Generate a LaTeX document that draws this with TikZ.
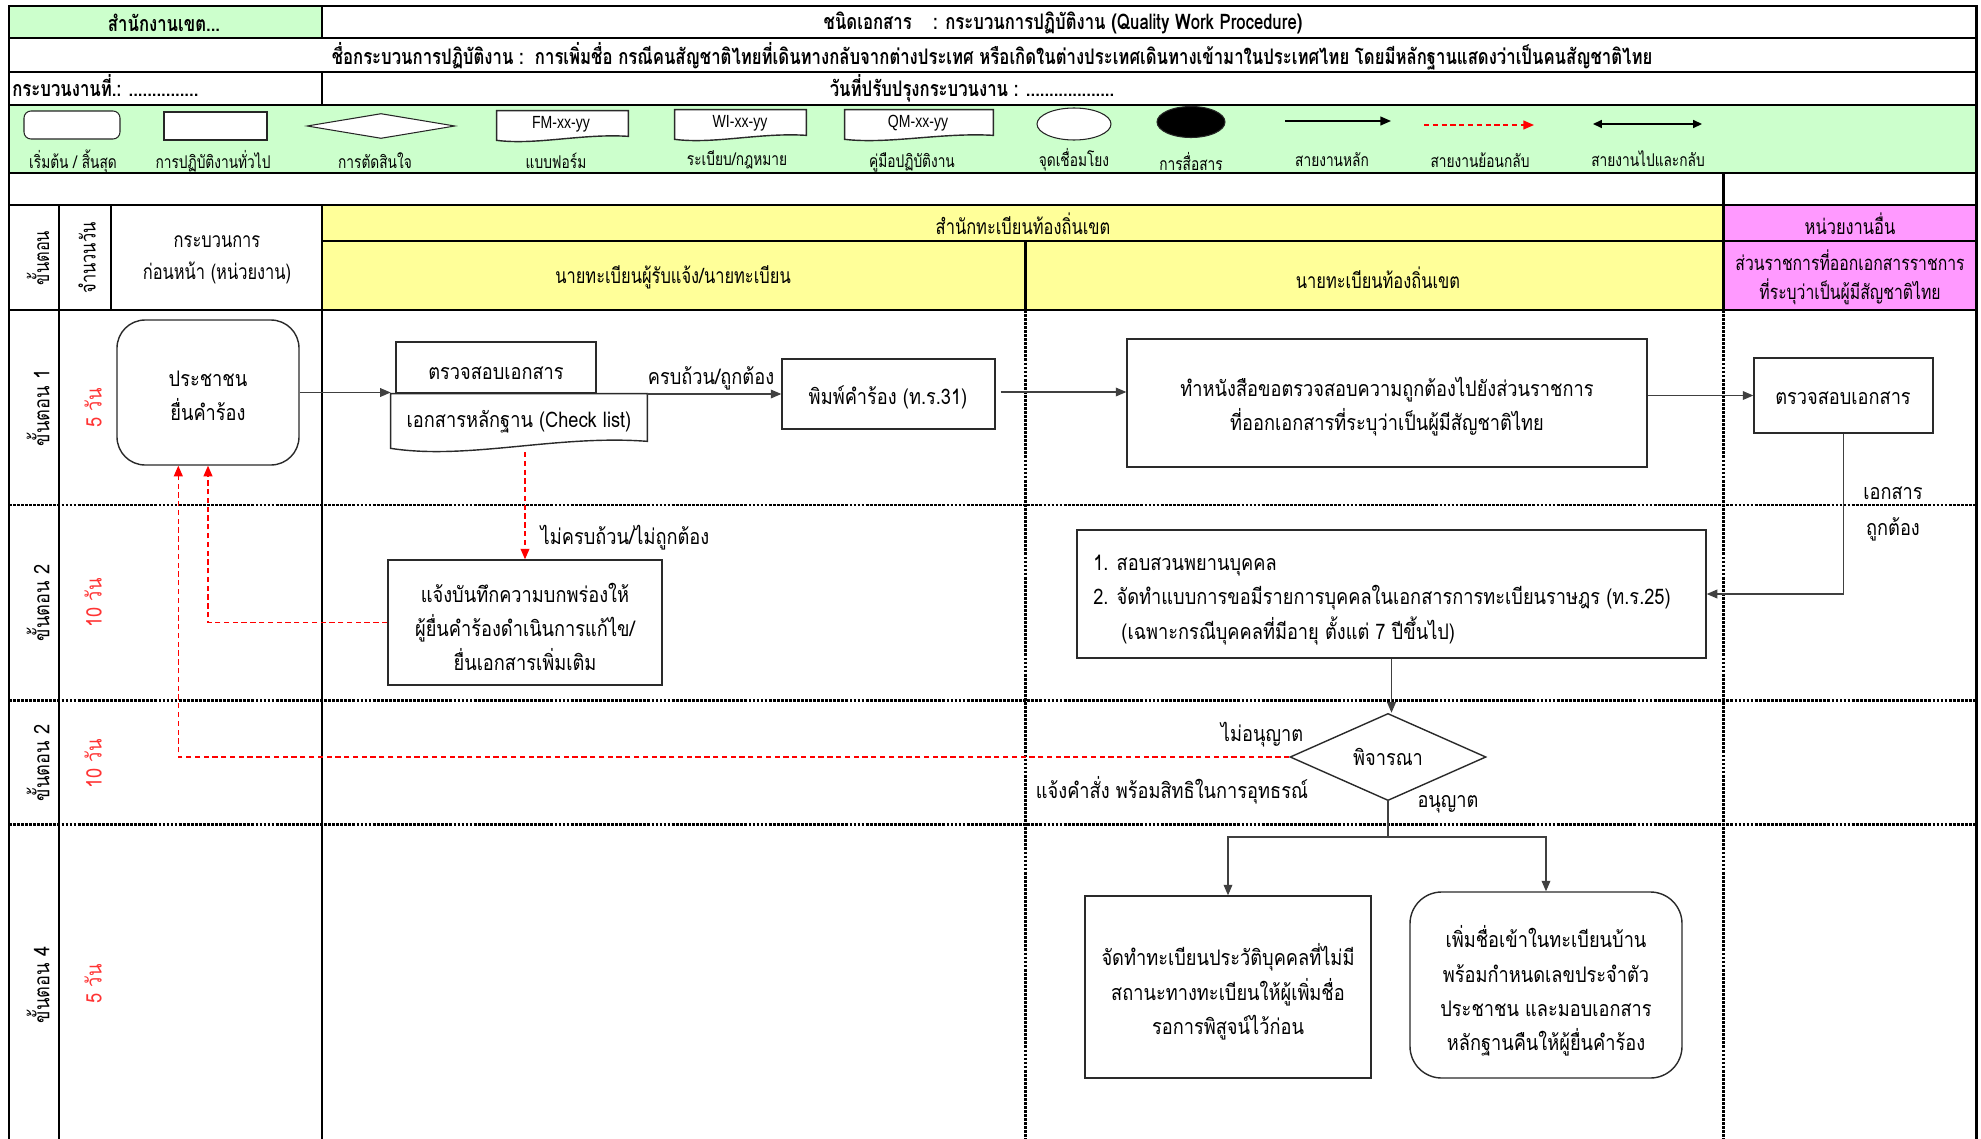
\documentclass[tikz,border=0pt]{standalone}
\usepackage{fontspec}
\setmainfont{Loma}[Script=Thai]
\newfontfamily\bodyf{Loma}[Script=Thai,FakeStretch=0.85]
\newfontfamily\condf{Loma}[Script=Thai,FakeStretch=0.78]
\newfontfamily\latf{Liberation Sans}[FakeStretch=0.8]
\usetikzlibrary{arrows.meta,shapes.geometric,fit,calc}
\definecolor{lgreen}{HTML}{CCFFCC}
\definecolor{lyellow}{HTML}{FFFF99}
\definecolor{lpink}{HTML}{FF99FF}
\definecolor{fbred}{HTML}{FF0000}
\definecolor{dayred}{HTML}{FF3333}
\definecolor{boxline}{HTML}{2A2A2A}
\newcommand\fbody{\bodyf\fontsize{12.2}{19.5}\selectfont}
\newcommand\fhead{\condf\fontsize{12}{18}\selectfont}
\newcommand\fhbold{\condf\bfseries\fontsize{12.2}{14}\selectfont}
\newcommand\flegend{\condf\fontsize{10}{12}\selectfont}
% document shape: #1 node, #2 rise at right end, #3 up-bulge, #4 down-dip
\newcommand\docpath[4]{\draw[docline] (#1.south west) -- (#1.north west) -- (#1.north east) -- ($(#1.south east)+(0,-#2)$) .. controls ($(#1.south east)!0.35!(#1.south west)+(0,-#3)$) and ($(#1.south east)!0.7!(#1.south west)+(0,#4)$) .. (#1.south west) -- cycle;}
\tikzset{
  gridline/.style={line width=1.7pt, line cap=rect},
  dotline/.style={line width=1.7pt, dash pattern=on 1.6pt off 0.7pt},
  pbox/.style={draw=boxline, line width=0.8pt, fill=white, inner sep=0pt},
  rbox/.style={pbox, rounded corners=13pt},
  docline/.style={draw=boxline, line width=0.8pt, fill=white},
  btxt/.style={font=\fbody, inner sep=0pt, align=center},
  arr/.style={draw=black!75, line width=0.6pt, -{Triangle[length=6pt,width=5pt]}},
  biarr/.style={draw=black, line width=0.8pt, {Triangle[length=5pt,width=4.5pt]}-{Triangle[length=5pt,width=4.5pt]}},
  fb/.style={draw=fbred, line width=0.8pt, dash pattern=on 3pt off 2pt, -{Triangle[length=6pt,width=5pt]}},
  lbl/.style={font=\fbody, inner sep=0pt},
  hdr/.style={font=\fhead, inner sep=0pt, align=center},
  hb/.style={font=\fhbold, inner sep=0pt},
  leg/.style={font=\flegend, inner sep=0pt},
  lgshape/.style={draw=black!85, line width=0.6pt, fill=white, inner sep=0pt},
  doct/.style={font=\latf\fontsize{10}{11}\selectfont, inner sep=0pt},
  day/.style={font=\fbody, text=dayred, inner sep=0pt, rotate=90},
  stp/.style={font=\fbody, inner sep=0pt, rotate=90},
}
\begin{document}
\begin{tikzpicture}[x=0.02cm,y=-0.02cm]
\useasboundingbox (0,0) rectangle (1981,1139);
% ---------- fills ----------
\fill[lgreen] (9,6) rectangle (322,38);
\fill[lgreen] (9,105) rectangle (1976,173);
\fill[lyellow] (322,205) rectangle (1723,310);
\fill[lpink] (1723,205) rectangle (1976,310);
% ---------- grid ----------
\foreach \yy in {6,38,72,105,173,205,310} \draw[gridline] (9,\yy) -- (1976,\yy);
\draw[gridline] (322,241) -- (1976,241);
\draw[gridline] (9,6) -- (9,1139);
\draw[gridline] (1976,6) -- (1976,1139);
\draw[gridline] (322,6) -- (322,38);
\draw[gridline] (322,72) -- (322,105);
\draw[gridline] (322,205) -- (322,1139);
\draw[gridline] (59,205) -- (59,1139);
\draw[gridline] (111,205) -- (111,310);
\draw[gridline] (1723,173) -- (1723,310);
\draw[gridline] (1025,241) -- (1025,310);
\draw[dotline] (1723,310) -- (1723,1139);
\draw[dotline] (1025,310) -- (1025,1139);
\foreach \yy in {505,700,824} \draw[dotline] (9,\yy) -- (1976,\yy);
% ---------- title rows ----------
\node[hb] (office) at (164,23) {สำนักงานเขต...};
\node[hb] (doctype) at (1063,23) {ชนิดเอกสาร\quad : กระบวนการปฏิบัติงาน (Quality Work Procedure)};
\node[hb] (procname) at (992,56) {ชื่อกระบวนการปฏิบัติงาน :\ \ การเพิ่มชื่อ กรณีคนสัญชาติไทยที่เดินทางกลับจากต่างประเทศ หรือเกิดในต่างประเทศเดินทางเข้ามาในประเทศไทย โดยมีหลักฐานแสดงว่าเป็นคนสัญชาติไทย};
\node[hb, anchor=west] (procno) at (12,86) {กระบวนงานที่.: ...............};
\node[hb] (update) at (972,88) {วันที่ปรับปรุงกระบวนงาน : ...................};
% ---------- legend ----------
\node[lgshape, rounded corners=4pt, fit={(24,111)(120,139)}] (lg1) {};
\node[lgshape, fit={(164,112)(267,140)}] (lg2) {};
\node[lgshape, diamond, minimum width=2.96cm, minimum height=0.5cm] (lg3) at (381,126) {};
\node[inner sep=0pt, fit={(497,111)(628,140)}] (lg4) {};
\docpath{lg4}{4}{7}{5}
\node[inner sep=0pt, fit={(675,110)(806,139)}] (lg5) {};
\docpath{lg5}{4}{7}{5}
\node[inner sep=0pt, fit={(845,110)(993,139)}] (lg6) {};
\docpath{lg6}{4}{7}{5}
\node[doct] (lg4t) at (561,124) {FM-xx-yy};
\node[doct] (lg5t) at (740,123) {WI-xx-yy};
\node[doct] (lg6t) at (918,123) {QM-xx-yy};
\node[lgshape, ellipse, minimum width=1.48cm, minimum height=0.64cm] (lg7) at (1074,124) {};
\node[lgshape, ellipse, fill=black, minimum width=1.36cm, minimum height=0.62cm] (lg8) at (1191,122) {};
\coordinate (la1) at (1285,121); \coordinate (la2) at (1391,121);
\draw[arr, draw=black, line width=0.8pt] (la1) -- (la2);
\coordinate (lb1) at (1424,125); \coordinate (lb2) at (1534,125);
\draw[fb] (lb1) -- (lb2);
\coordinate (lc1) at (1593,124); \coordinate (lc2) at (1702,124);
\draw[biarr] (lc1) -- (lc2);
\node[leg] (lt1) at (73,161) {เริ่มต้น / สิ้นสุด};
\node[leg] (lt2) at (213,161) {การปฏิบัติงานทั่วไป};
\node[leg] (lt3) at (375,161) {การตัดสินใจ};
\node[leg] (lt4) at (556,161) {แบบฟอร์ม};
\node[leg] (lt5) at (737,160) {ระเบียบ/กฎหมาย};
\node[leg] (lt6) at (912,162) {คู่มือปฏิบัติงาน};
\node[leg] (lt7) at (1074,160) {จุดเชื่อมโยง};
\node[leg] (lt8) at (1191,162) {การสื่อสาร};
\node[leg] (lt9) at (1332,160) {สายงานหลัก};
\node[leg] (lt10) at (1480,160) {สายงานย้อนกลับ};
\node[leg] (lt11) at (1648,159) {สายงานไปและกลับ};
% ---------- column headers ----------
\node[hdr, rotate=90] (hstep) at (38,258) {ขั้นตอน};
\node[hdr, rotate=90] (hdays) at (87,258) {จำนวนวัน};
\node[hdr] (hprev) at (217,260) {กระบวนการ\\ก่อนหน้า (หน่วยงาน)};
\node[hdr] (hreg) at (1023,224) {สำนักทะเบียนท้องถิ่นเขต};
\node[hdr] (hother) at (1850,224) {หน่วยงานอื่น};
\node[hdr] (hrecv) at (673,277) {นายทะเบียนผู้รับแจ้ง/นายทะเบียน};
\node[hdr] (hlocal) at (1378,278) {นายทะเบียนท้องถิ่นเขต};
\node[hdr, font=\condf\fontsize{11.5}{16.5}\selectfont] (hgov) at (1850,277) {ส่วนราชการที่ออกเอกสารราชการ\\ที่ระบุว่าเป็นผู้มีสัญชาติไทย};
% ---------- step / day labels ----------
\node[stp] (s1) at (38,408) {ขั้นตอน 1};
\node[stp] (s2) at (38,603) {ขั้นตอน 2};
\node[stp] (s3) at (38,763) {ขั้นตอน 2};
\node[stp] (s4) at (38,985) {ขั้นตอน 4};
\node[day] (d1) at (93,408) {5 วัน};
\node[day] (d2) at (93,603) {10 วัน};
\node[day] (d3) at (93,764) {10 วัน};
\node[day] (d4) at (93,984) {5 วัน};
% ---------- flow nodes ----------
\node[rbox, rounded corners=16pt, fit={(117,320)(299,465)}] (p1) {};
\node[btxt] (p1t) at (208,396) {ประชาชน\\ยื่นคำร้อง};
\node[pbox, fit={(396,342)(596,393)}] (chk) {};
\node[btxt] (chkt) at (496,373) {ตรวจสอบเอกสาร};
\node[inner sep=0pt, fit={(391,394)(647,448)}] (doc) {};
\docpath{doc}{7}{14}{12}
\node[btxt] (doct) at (519,422) {เอกสารหลักฐาน (Check list)};
\node[pbox, fit={(782,359)(995,429)}] (pim) {};
\node[btxt] (pimt) at (888,397) {พิมพ์คำร้อง (ท.ร.31)};
\node[pbox, fit={(1127,339)(1647,467)}] (let) {};
\node[btxt] (lett) at (1387,407) {ทำหนังสือขอตรวจสอบความถูกต้องไปยังส่วนราชการ\\ที่ออกเอกสารที่ระบุว่าเป็นผู้มีสัญชาติไทย};
\node[pbox, fit={(1754,358)(1933,433)}] (chk2) {};
\node[btxt] (chk2t) at (1843,398) {ตรวจสอบเอกสาร};
\node[pbox, fit={(388,560)(662,685)}] (ntf) {};
\node[btxt] (ntft) at (525,627) {แจ้งบันทึกความบกพร่องให้\\ผู้ยื่นคำร้องดำเนินการแก้ไข/\\ยื่นเอกสารเพิ่มเติม};
\node[pbox, fit={(1077,530)(1706,658)}] (inv) {};
\node[btxt, anchor=west, align=left] (invt) at (1093,600) {1. สอบสวนพยานบุคคล\\2. จัดทำแบบการขอมีรายการบุคคลในเอกสารการทะเบียนราษฎร (ท.ร.25)\\\hspace*{16pt}(เฉพาะกรณีบุคคลที่มีอายุ ตั้งแต่ 7 ปีขึ้นไป)};
\node[pbox, diamond, minimum width=3.92cm, minimum height=1.18cm, font=\fbody] (dia) at (1388,757) {พิจารณา};
\node[pbox, fit={(1085,896)(1371,1078)}] (rec) {};
\node[btxt] (rect) at (1228,992) {จัดทำทะเบียนประวัติบุคคลที่ไม่มี\\สถานะทางทะเบียนให้ผู้เพิ่มชื่อ\\รอการพิสูจน์ไว้ก่อน};
\node[rbox, rounded corners=18pt, fit={(1410,892)(1682,1078)}] (fin) {};
\node[btxt] (fint) at (1546,991) {เพิ่มชื่อเข้าในทะเบียนบ้าน\\พร้อมกำหนดเลขประจำตัว\\ประชาชน และมอบเอกสาร\\หลักฐานคืนให้ผู้ยื่นคำร้อง};
% ---------- connectors ----------
\draw[arr] (p1.east) -- (p1.east -| doc.west);
\draw[arr] (pim.west -| doc.east) -- (pim.west);
\draw[arr] ($(pim.east)+(5,-2)$) -- ($(pim.east -| let.west)+(0,-2)$);
\draw[arr] (chk2.west -| let.east) -- (chk2.west);
\draw[arr] (chk2.south) |- (inv.east);
\draw[arr] (inv.south) -- (inv.south |- dia.north);
\coordinate (br) at (1390,837);
\draw[draw=black!75, line width=0.6pt] (dia.south) -- (dia.south |- br);
\draw[arr] (dia.south |- br) -| (rec.north);
\draw[arr] (dia.south |- br) -| (fin.north);
\draw[fb] (ntf.north |- 0,452) -- (ntf.north);
\draw[fb] (ntf.west) -| (p1.south);
\draw[fb] (dia.west) -| ($(p1.south west)+(62,0)$);
% ---------- connector labels ----------
\node[lbl] (l1) at (711,378) {ครบถ้วน/ถูกต้อง};
\node[lbl] (l2) at (625,538) {ไม่ครบถ้วน/ไม่ถูกต้อง};
\node[lbl] (l3) at (1893,493) {เอกสาร};
\node[lbl] (l4) at (1893,529) {ถูกต้อง};
\node[lbl] (l5) at (1262,735) {ไม่อนุญาต};
\node[lbl] (l6) at (1172,790) {แจ้งคำสั่ง พร้อมสิทธิในการอุทธรณ์};
\node[lbl] (l7) at (1448,804) {อนุญาต};
\end{tikzpicture}
\end{document}
